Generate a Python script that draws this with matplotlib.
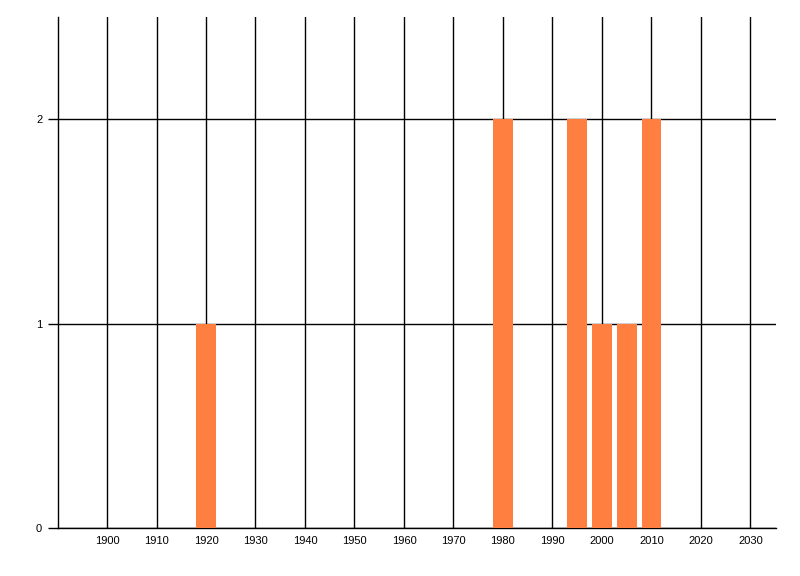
import matplotlib
matplotlib.use("Agg")
import matplotlib.pyplot as plt

# data
years = [1920, 1980, 1995, 2000, 2005, 2010]
counts = [1, 2, 2, 1, 1, 2]
x_ticks = list(range(1900, 2031, 10))
y_ticks = [0, 1, 2]

BAR_COLOR = "#FF7F41"

fig = plt.figure(figsize=(8, 5.76), dpi=100)
ax = fig.add_axes([0.0719, 0.0833, 0.8977, 0.8872])

ax.bar(years, counts, width=4, color=BAR_COLOR, zorder=3)

ax.set_xlim(1890, 2035.1)
ax.set_ylim(0, 2.5)
ax.set_xticks(x_ticks)
ax.set_xticklabels([str(x) for x in x_ticks])
ax.set_yticks(y_ticks)

# grid lines in black, under the bars
ax.set_axisbelow(True)
ax.grid(True, color="black", linewidth=1.0)

for side in ["top", "right"]:
    ax.spines[side].set_visible(False)
for side in ["left", "bottom"]:
    ax.spines[side].set_linewidth(1.0)

ax.tick_params(axis="x", length=0, pad=6, labelsize=8)
ax.tick_params(axis="y", length=7, width=1.0, pad=4, labelsize=8)

for lbl in ax.get_xticklabels() + ax.get_yticklabels():
    lbl.set_family("Liberation Sans")

fig.savefig("out.png", dpi=100)
